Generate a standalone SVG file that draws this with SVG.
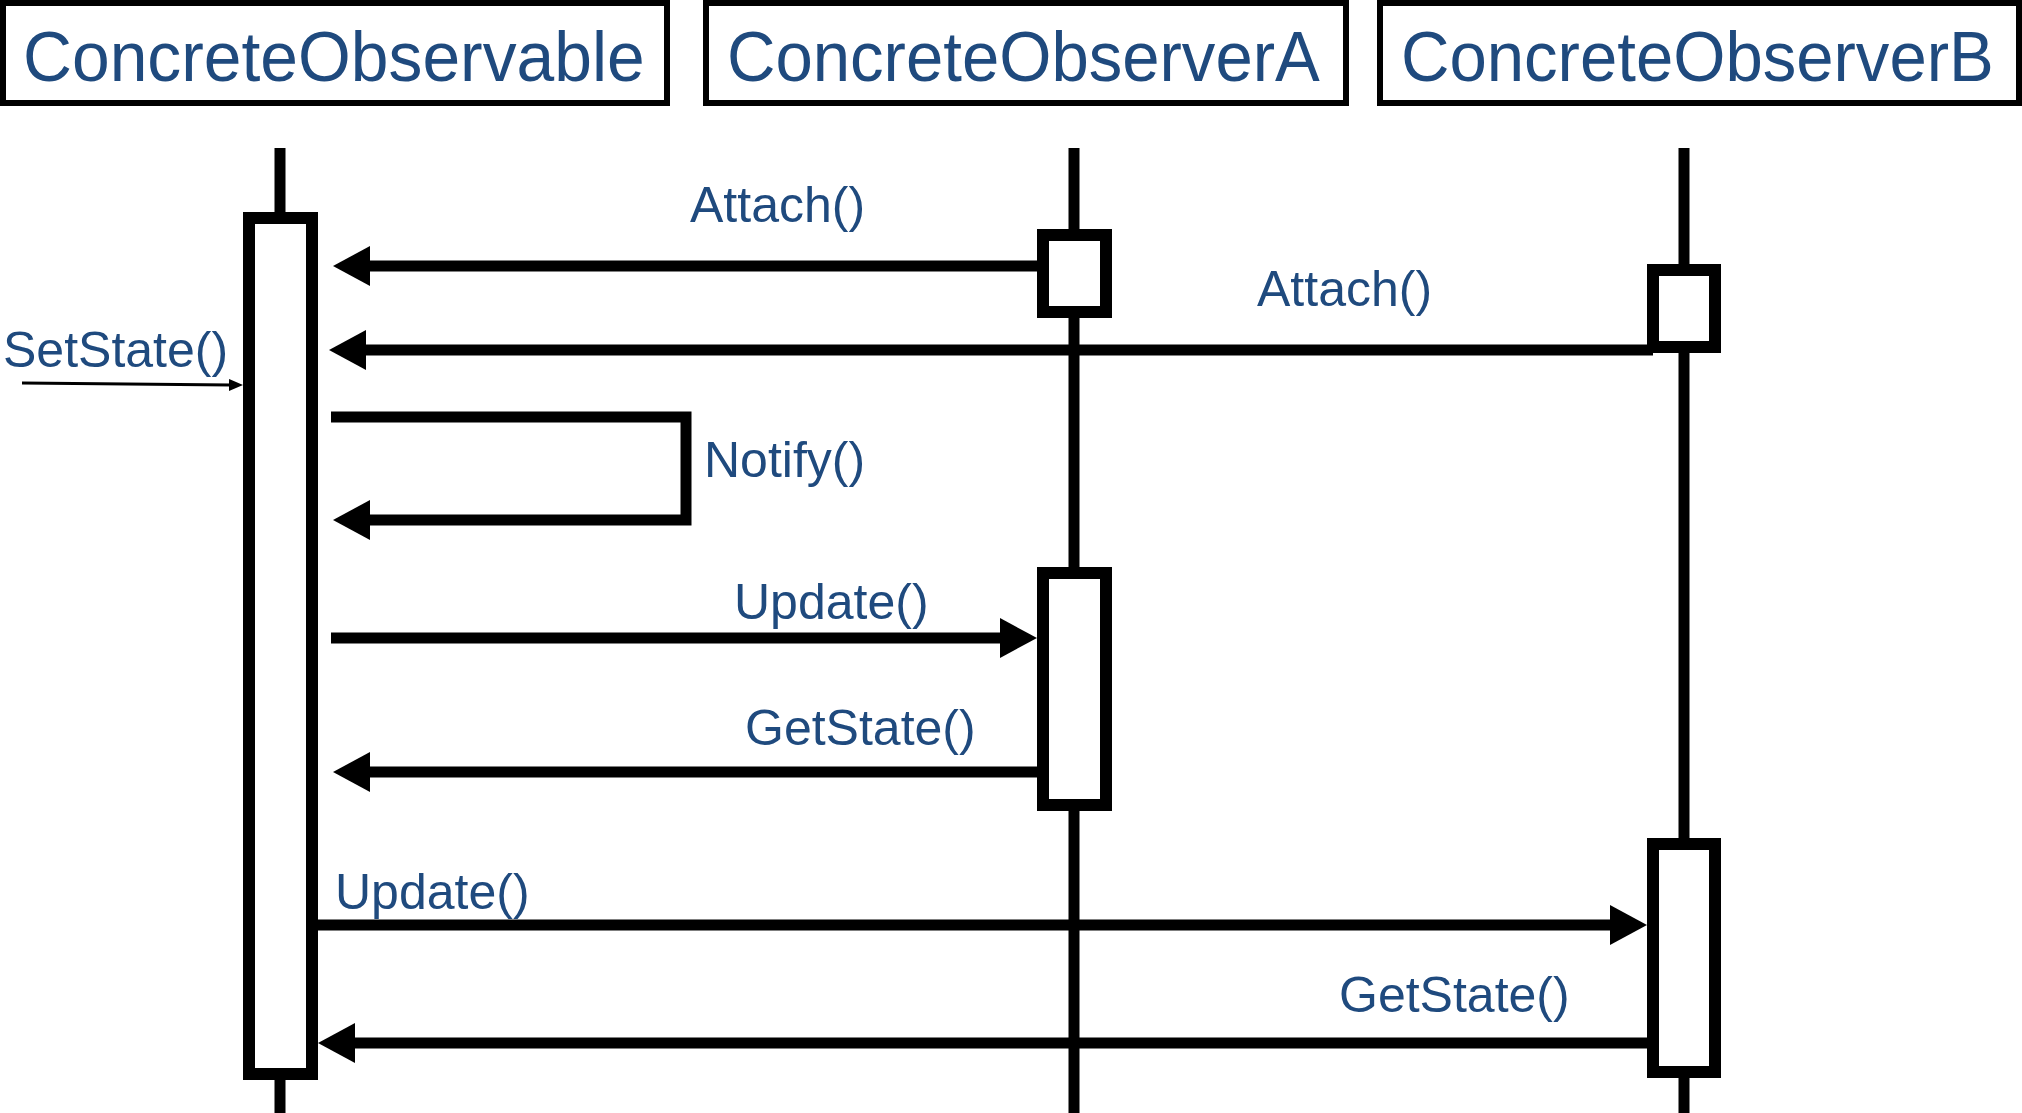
<svg xmlns="http://www.w3.org/2000/svg" width="2022" height="1113" viewBox="0 0 2022 1113">
<style>
.head{fill:#fff;stroke:#000;stroke-width:6}
.title{font-family:"Liberation Sans",Arial,sans-serif;font-size:71px;fill:#1F4A7E}
.lbl{font-family:"Liberation Sans",Arial,sans-serif;font-size:50px;fill:#1F4A7E}
.life{stroke:#000;stroke-width:11}
.act{fill:#fff;stroke:#000;stroke-width:12}
.msg{fill:none;stroke:#000;stroke-width:11}
.thin{fill:none;stroke:#000;stroke-width:3}
</style>
<defs>
<marker id="ah" markerUnits="userSpaceOnUse" markerWidth="38" markerHeight="40" refX="8" refY="20" orient="auto">
<path d="M0,0 L37,20 L0,40 z" fill="#000"/>
</marker>
<marker id="ahs" markerUnits="userSpaceOnUse" markerWidth="14" markerHeight="12" refX="2" refY="6" orient="auto">
<path d="M0,0 L14,6 L0,12 z" fill="#000"/>
</marker>
</defs>
<rect width="2022" height="1113" fill="#fff"/>
<g id="observable">
<rect class="head" x="3" y="3" width="664" height="100"/>
<text class="title" transform="translate(23,81) scale(0.955,1)">ConcreteObservable</text>
<line class="life" x1="280" y1="148" x2="280" y2="1113"/>
<rect class="act" x="249" y="218" width="63" height="856"/>
</g>
<g id="observerA">
<rect class="head" x="706" y="3" width="640" height="100"/>
<text class="title" transform="translate(727,81) scale(0.945,1)">ConcreteObserverA</text>
<line class="life" x1="1074" y1="148" x2="1074" y2="1113"/>
<rect class="act" x="1043" y="235" width="63" height="77"/>
<rect class="act" x="1043" y="573" width="63" height="232"/>
</g>
<g id="observerB">
<rect class="head" x="1380" y="3" width="639" height="100"/>
<text class="title" transform="translate(1401,81) scale(0.945,1)">ConcreteObserverB</text>
<line class="life" x1="1684" y1="148" x2="1684" y2="1113"/>
<rect class="act" x="1653" y="270" width="62" height="77"/>
<rect class="act" x="1653" y="844" width="62" height="228"/>
</g>
<g id="connectors">
<line class="msg" x1="1043" y1="266" x2="362" y2="266" marker-end="url(#ah)"/>
<text class="lbl" x="690" y="222">Attach()</text>
<line class="msg" x1="1653" y1="350" x2="358" y2="350" marker-end="url(#ah)"/>
<text class="lbl" x="1257" y="306">Attach()</text>
<line class="thin" x1="22" y1="383" x2="231" y2="385" marker-end="url(#ahs)"/>
<text class="lbl" x="3" y="367">SetState()</text>
<path class="msg" d="M331,417 H686 V520 H362" marker-end="url(#ah)"/>
<text class="lbl" x="704" y="477">Notify()</text>
<line class="msg" x1="331" y1="638" x2="1008" y2="638" marker-end="url(#ah)"/>
<text class="lbl" x="734" y="619">Update()</text>
<line class="msg" x1="1043" y1="772" x2="362" y2="772" marker-end="url(#ah)"/>
<text class="lbl" x="745" y="745">GetState()</text>
<line class="msg" x1="318" y1="925" x2="1618" y2="925" marker-end="url(#ah)"/>
<text class="lbl" x="335" y="909">Update()</text>
<line class="msg" x1="1653" y1="1043" x2="347" y2="1043" marker-end="url(#ah)"/>
<text class="lbl" x="1339" y="1012">GetState()</text>
</g>
</svg>
